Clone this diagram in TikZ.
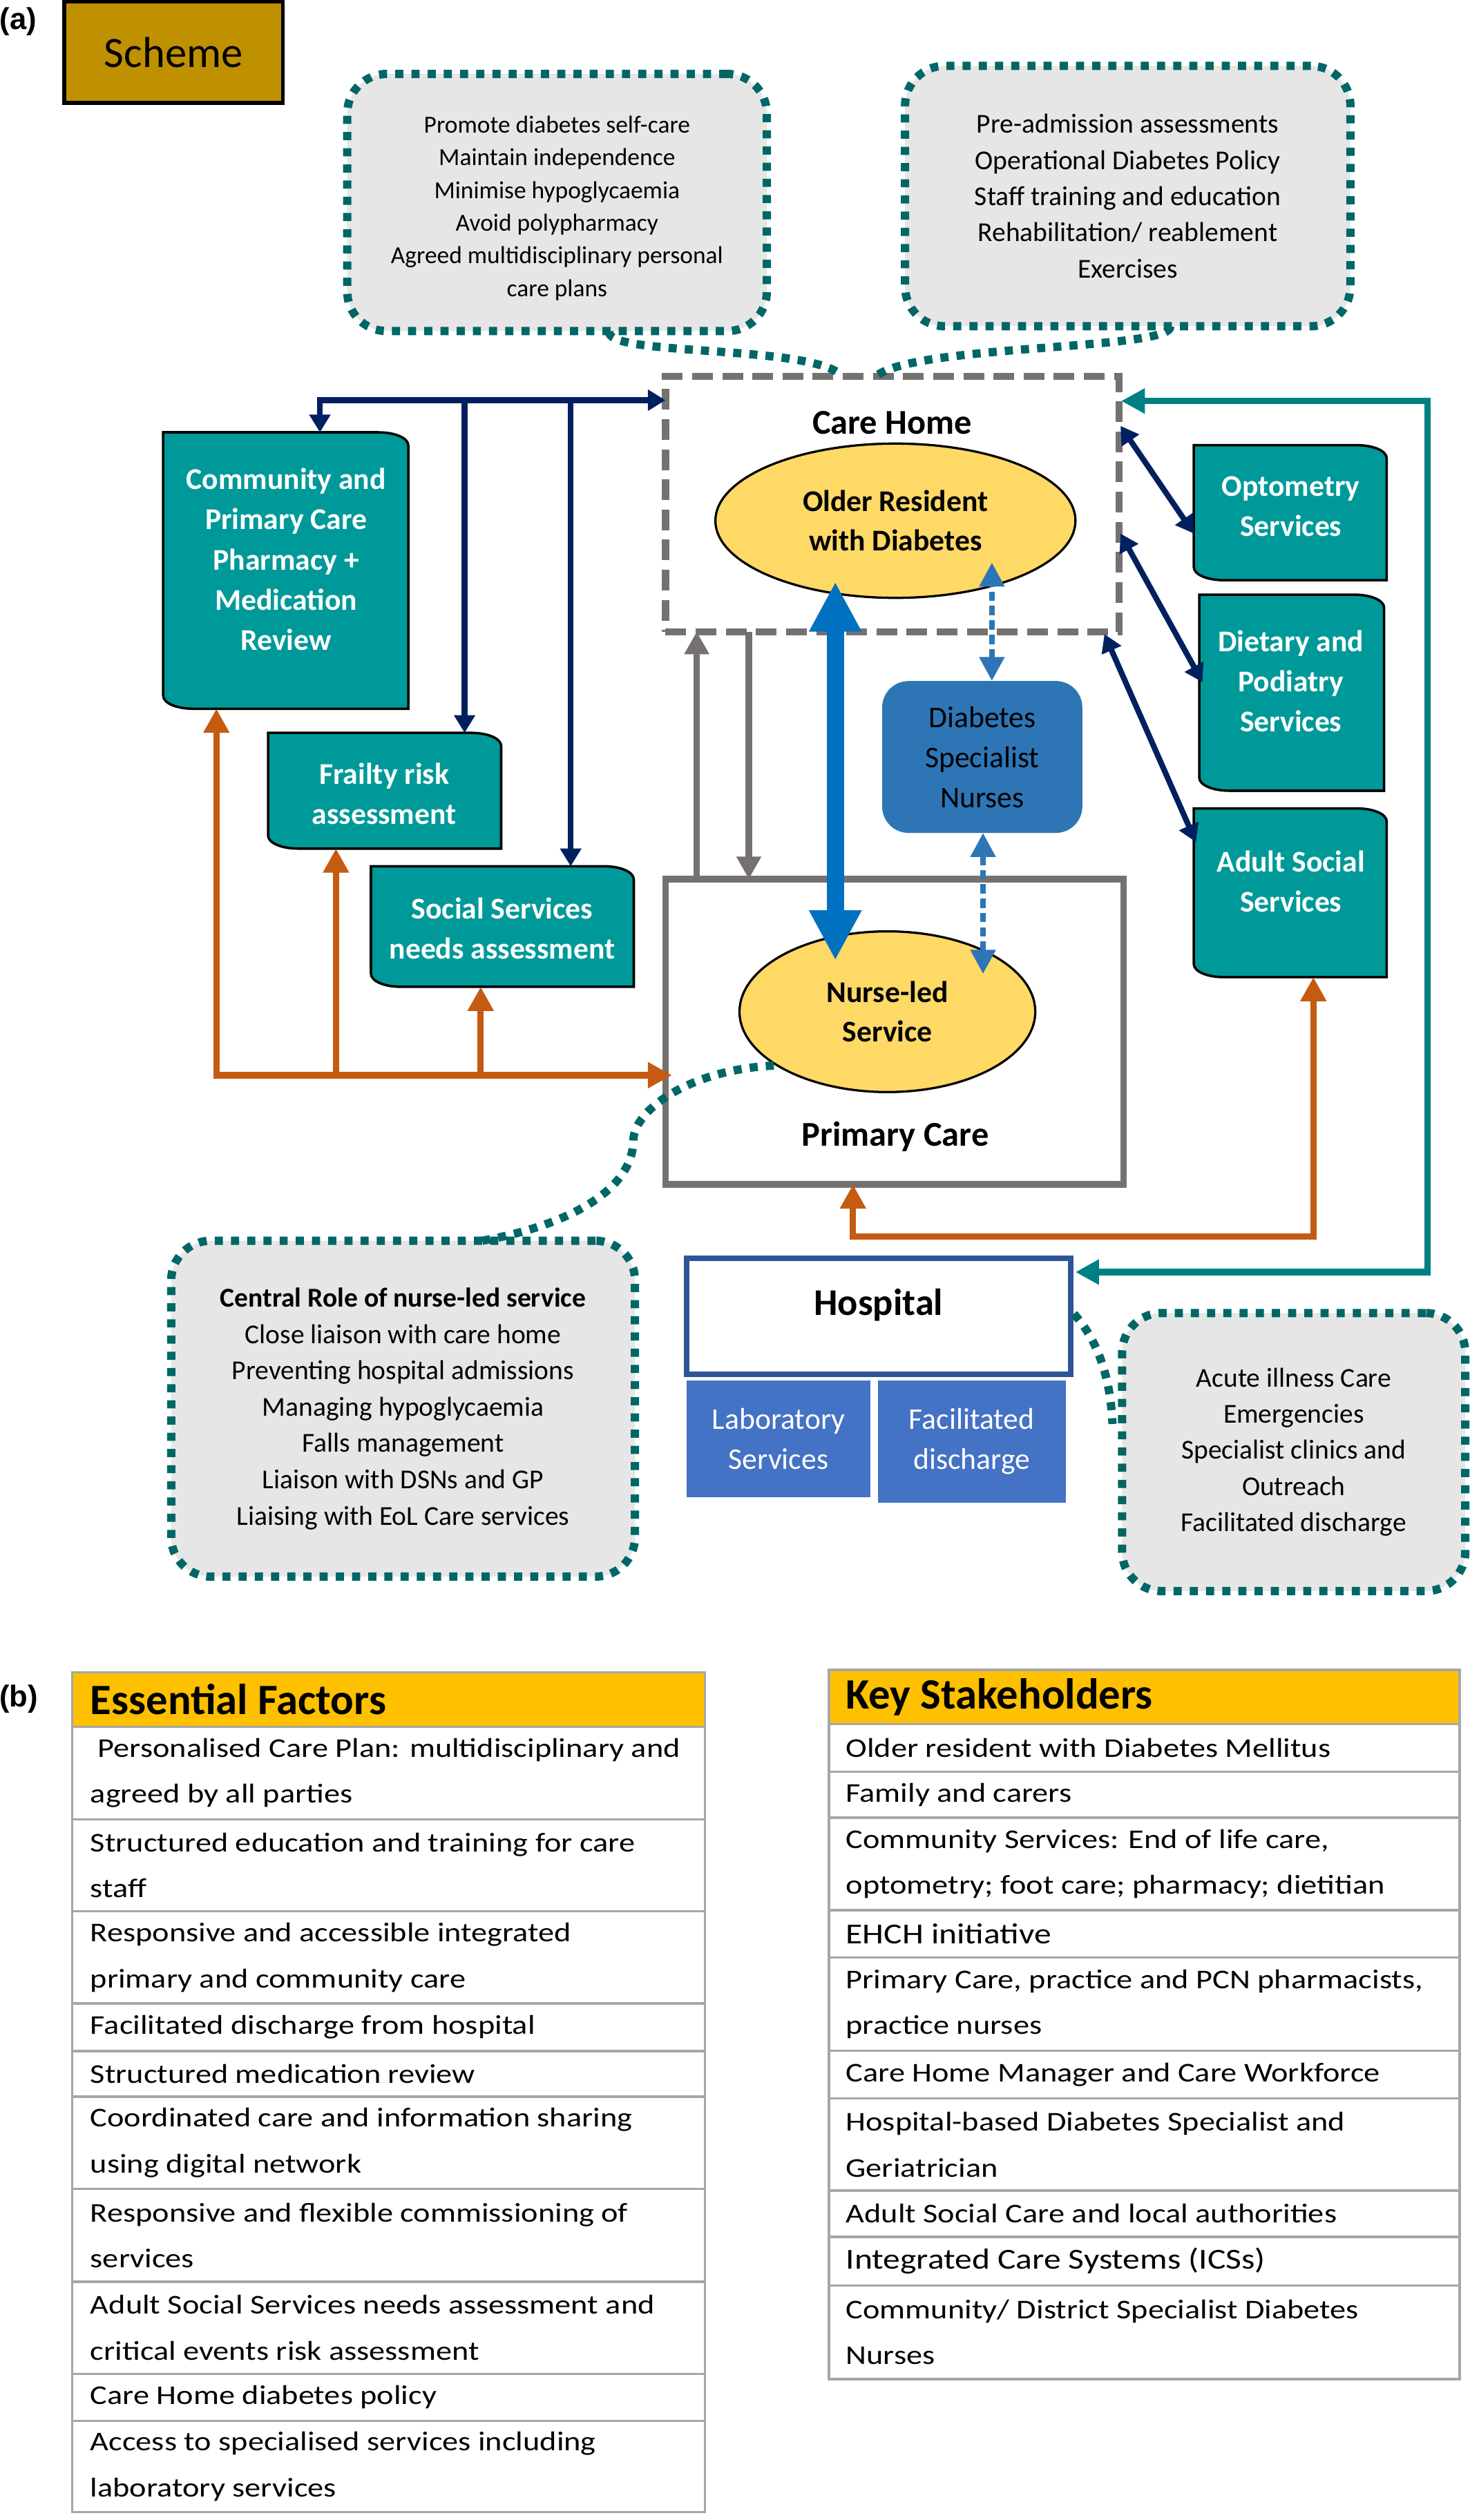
\documentclass[tikz,border=0pt]{standalone}
\usepackage{fontspec}
\setmainfont{Carlito}
\newfontfamily\tabfont[FakeStretch=1.18]{Carlito}
\newfontfamily\lblfont{Liberation Sans}
\usetikzlibrary{arrows.meta,shapes.geometric,calc}
\pgfdeclarelayer{bg}
\pgfsetlayers{bg,main}
\newcommand\uu{0.03cm}
\definecolor{tealbox}{HTML}{009999}
\definecolor{navyc}{HTML}{002060}
\definecolor{orangec}{HTML}{C55A11}
\definecolor{greyc}{HTML}{767171}
\definecolor{tealarr}{HTML}{008080}
\definecolor{callb}{HTML}{006666}
\definecolor{callf}{HTML}{E7E6E6}
\definecolor{ellf}{HTML}{FFD966}
\definecolor{dsnc}{HTML}{2E75B6}
\definecolor{bluearr}{HTML}{0070C0}
\definecolor{hospb}{HTML}{2F5597}
\definecolor{labf}{HTML}{4472C4}
\definecolor{goldc}{HTML}{BF9000}
\definecolor{hdrc}{HTML}{FFC000}
\definecolor{tabline}{HTML}{A6A6A6}
\tikzset{
  sz/.style 2 args={minimum width={#1*\uu}, minimum height={#2*\uu}},
  ph/.style={rectangle, inner sep=0pt, outer sep=0pt},
  tealshape/.style={fill=tealbox, draw=black, line width=1.3pt},
  tealtxt/.style={text=white, align=center, inner sep=0pt, font={\bfseries\fontsize{16}{21.3}\selectfont}},
  callout/.style={rectangle, rounded corners=21pt, draw=callb, fill=callf, line width=4.4pt, dash pattern=on 4.3pt off 4.3pt, align=center, inner sep=0pt, outer sep=0pt},
  chbox/.style={rectangle, draw=greyc, line width=3.7pt, dash pattern=on 11pt off 5pt, inner sep=0pt, outer sep=0pt},
  pcbox/.style={rectangle, draw=greyc, line width=3.5pt, inner sep=0pt, outer sep=0pt},
  hospbox/.style={rectangle, draw=hospb, line width=3pt, fill=white, inner sep=0pt, outer sep=0pt},
  labbox/.style={rectangle, fill=labf, text=white, align=center, inner sep=0pt, outer sep=0pt, font={\fontsize{16}{21.3}\selectfont}},
  dsnbox/.style={rectangle, rounded corners=14pt, fill=dsnc, text=black, align=center, inner sep=0pt, outer sep=0pt, font={\fontsize{16}{21.3}\selectfont}},
  ell/.style={ellipse, draw=black, line width=1.2pt, fill=ellf, inner sep=0pt, outer sep=0pt, align=center, font={\bfseries\fontsize{16}{20.9}\selectfont}},
  bigbold/.style={inner sep=0pt, font={\bfseries\fontsize{18.5}{22}\selectfont}},
  lbl/.style={inner sep=0pt, font={\lblfont\bfseries\fontsize{16}{19}\selectfont}},
  schemebox/.style={rectangle, draw=black, fill=goldc, line width=2pt, inner sep=0pt, font={\fontsize{23}{27}\selectfont}},
  rowbox/.style={rectangle, draw=tabline, line width=1.2pt, inner sep=0pt, outer sep=0pt},
  hdrbox/.style={rowbox, fill=hdrc},
  rowtxt/.style={inner sep=0pt, align=left, font={\tabfont\fontsize{14.4}{24.4}\selectfont}},
  hdrtxt/.style={inner sep=0pt, font={\bfseries\fontsize{23}{27}\selectfont}},
  navyline/.style={draw=navyc, line width=3pt},
  orline/.style={draw=orangec, line width=3.4pt},
  tqline/.style={draw=tealarr, line width=3.4pt},
  greyline/.style={draw=greyc, line width=3.4pt},
  blueline/.style={draw=bluearr, line width=9.2pt},
  dsnline/.style={draw=dsnc, line width=3pt, dash pattern=on 5pt off 2.6pt},
  tail/.style={draw=callb, line width=4.4pt, dash pattern=on 4.3pt off 4.3pt},
  navytip/.tip={Triangle[length=9.4pt,width=10.8pt]},
  ortip/.tip={Triangle[length=12.8pt,width=13.1pt]},
  tqtip/.tip={Triangle[length=12.5pt,width=12.7pt]},
  greytip/.tip={Triangle[length=12pt,width=12.5pt]},
  bluetip/.tip={Triangle[length=26.5pt,width=26pt]},
  dsntip/.tip={Triangle[length=12.8pt,width=12.8pt]}
}
\newcommand\rdshape[1]{%
  \filldraw[tealshape] (#1.north west) -- ([xshift=-16pt]#1.north east)
    .. controls ([xshift=-7pt]#1.north east) and ([yshift=-3pt]#1.north east) .. ([yshift=-7pt]#1.north east)
    -- (#1.south east) -- ([xshift=16pt]#1.south west)
    .. controls ([xshift=7pt]#1.south west) and ([yshift=3pt]#1.south west) .. ([yshift=7pt]#1.south west) -- cycle;}
\newcommand\trow[6]{%
  \node[#6, anchor=north west, minimum width={(#4-#2)*\uu}, minimum height={(#5-#3)*\uu}] (#1) at (#2,#3) {};}
\newcommand\ttxt[4]{%
  \node[rowtxt, anchor=west, #4] (#1t) at ($(#1.west)+(#2,0)$) {#3};}
\begin{document}
\begin{tikzpicture}[x=0.03cm, y=-0.03cm]
\begin{pgfonlayer}{bg}
\fill[white] (0,0) rectangle (914,1568);
\end{pgfonlayer}
\useasboundingbox (0,0) rectangle (914,1568);

% ---------- panel (a) ----------
\node[lbl] (la) at (11.3,13.4) {(a)};
\node[schemebox, sz={136}{63}] (scheme) at (108,32.5) {Scheme};

% callouts
\node[callout, sz={261}{160}, font={\fontsize{13}{17.4}\selectfont}] (c1) at (346.5,126)
  {\rule{0pt}{15pt}Promote diabetes self-care\\Maintain independence\\Minimise hypoglycaemia\\Avoid polypharmacy\\Agreed multidisciplinary personal\\care plans};
\node[callout, sz={277}{162}, font={\fontsize{14.5}{19.2}\selectfont}] (c2) at (701.5,122)
  {Pre-admission assessments\\Operational Diabetes Policy\\Staff training and education\\Rehabilitation/ reablement\\Exercises};
\node[callout, sz={288.5}{209}, font={\fontsize{14.5}{19.3}\selectfont}] (c3) at (250.75,876.5)
  {\textbf{Central Role of nurse-led service}\\Close liaison with care home\\Preventing hospital admissions\\Managing hypoglycaemia\\Falls management\\Liaison with DSNs and GP\\Liaising with EoL Care services};
\node[callout, sz={213.5}{173}, font={\fontsize{14.5}{19.2}\selectfont}] (c4) at (804.75,903.5)
  {Acute illness Care\\Emergencies\\Specialist clinics and\\Outreach\\Facilitated discharge};

% care home and primary care
\node[chbox, sz={282}{159}] (chome) at (555,313.5) {};
\node[bigbold] (chomet) at (555,263) {Care Home};
\node[pcbox, sz={285}{190}] (pcare) at (556.5,642) {};
\node[bigbold] (pcaret) at (557,707) {Primary Care};
\node[ell, sz={224}{96}] (older) at (557,324) {Older Resident\\with Diabetes};
\node[ell, sz={184}{100}] (nurse) at (552,629.5) {Nurse-led\\Service};
\node[dsnbox, sz={124.5}{94.5}] (dsn) at (611,471) {Diabetes\\Specialist\\Nurses};

% teal boxes
\node[ph, sz={152.5}{172}] (comm) at (177.75,355) {};
\node[ph, sz={145}{72}] (frail) at (239.25,492) {};
\node[ph, sz={163.5}{75}] (social) at (312.5,576.5) {};
\node[ph, sz={120}{84}] (opt) at (802.6,319) {};
\node[ph, sz={115}{122}] (diet) at (803.5,431) {};
\node[ph, sz={120}{105}] (adult) at (802.6,555.5) {};
\begin{pgfonlayer}{bg}
  \rdshape{comm}\rdshape{frail}\rdshape{social}\rdshape{opt}\rdshape{diet}\rdshape{adult}
\end{pgfonlayer}
\node[tealtxt] (commt) at (178,348) {Community and\\Primary Care\\Pharmacy +\\Medication\\Review};
\node[tealtxt] (frailt) at (239,493.8) {Frailty risk\\assessment};
\node[tealtxt] (socialt) at (312.4,577.5) {Social Services\\needs assessment};
\node[tealtxt] (optt) at (803,315) {Optometry\\Services};
\node[tealtxt] (dietT) at (803,424) {Dietary and\\Podiatry\\Services};
\node[tealtxt] (adultt) at (803,548.4) {Adult Social\\Services};

% hospital
\node[hospbox, sz={239}{72.5}] (hosp) at (546.5,819) {};
\node[inner sep=0pt, font={\bfseries\fontsize{20}{24}\selectfont}] (hospt) at (546.5,812) {Hospital};
\node[labbox, sz={114.6}{72.6}] (lab) at (484.3,895.3) {Laboratory\\Services};
\node[labbox, sz={117}{76}] (facil) at (604.5,897) {Facilitated\\discharge};

% navy tree
\coordinate (nv0) at (199,249);
\coordinate (nv1) at (289,249);
\coordinate (nv2) at (355,249);
\draw[navyline, navytip-navytip] (nv0 |- comm.north) -- (nv0) -- (nv0 -| chome.west);
\draw[navyline, -navytip] (nv1) -- (nv1 |- frail.north);
\draw[navyline, -navytip] (nv2) -- (nv2 |- social.north);

% orange tree
\coordinate (or0) at (134.6,669);
\coordinate (or1) at (209,669);
\coordinate (or2) at (299,669);
\draw[orline, ortip-ortip] (or0 |- comm.south) -- (or0) -- ($(or0 -| pcare.west)+(4,0)$);
\draw[orline, -ortip] (or1) -- (or1 |- frail.south);
\draw[orline, -ortip] (or2) -- (or2 |- social.south);
\coordinate (or3) at (817,769.5);
\coordinate (or4) at (530.6,769.5);
\draw[orline, ortip-ortip] (or3 |- adult.south) -- (or3) -- (or4) -- (or4 |- pcare.south);

% teal loop
\coordinate (tq0) at (888,249.5);
\coordinate (tq1) at (888,791.5);
\draw[tqline, tqtip-tqtip] ($(tq0 -| chome.east)+(1.5,0)$) -- (tq0) -- (tq1) -- ($(tq1 -| hosp.east)+(3,0)$);

% grey arrows
\coordinate (gx0) at (433.4,470);
\coordinate (gx1) at (465.8,470);
\draw[greyline, -greytip] (gx0 |- pcare.north) -- (gx0 |- chome.south);
\draw[greyline, -greytip] (gx1 |- chome.south) -- (gx1 |- pcare.north);

% blue thick double arrow
\coordinate (bx) at (519.6,480);
\draw[blueline, bluetip-bluetip] ($(bx |- older.south)+(0,-10)$) -- ($(bx |- nurse.north)+(0,18)$);

% DSN dotted arrows
\coordinate (dx0) at (617,400);
\coordinate (dx1) at (611.5,560);
\draw[dsnline, dsntip-dsntip] (dx0 |- dsn.north) -- ($(dx0 |- older.south)+(0,-22)$);
\draw[dsnline, dsntip-dsntip] (dx1 |- dsn.south) -- ($(dx1 |- nurse.north)+(0,26.5)$);

% navy right arrows
\draw[navyline, navytip-navytip] ($(chome.east)+(1,-48.5)$) -- ($(opt.west)+(0,13)$);
\draw[navyline, navytip-navytip] ($(chome.east)+(1,18.5)$) -- ($(diet.west)+(2,-6.5)$);
\draw[navyline, navytip-navytip] ($(chome.south east)+(-9,1.5)$) -- ($(adult.west)+(1.3,-31.5)$);

% callout tails
\draw[tail] ($(c1.south)+(32.5,0)$) .. controls (375,222) and (505,214) .. ($(chome.north)+(-31,0)$);
\draw[tail] ($(c2.south)+(26.5,0)$) .. controls (730,218) and (570,214) .. ($(chome.north)+(-10,0)$);
\draw[tail] ($(c3.north)+(49.25,0)$) .. controls (355,762) and (394,740) .. (394,709)
   .. controls (395,690) and (430,665) .. (nurse.206);
\draw[tail] ($(hosp.east)+(2,-1.5)$) .. controls (684,835) and (691,860) .. ($(c4.west)+(-6,-17.5)$);

% ---------- panel (b) ----------
\node[lbl] (lb) at (11.6,1057) {(b)};

\trow{e0}{45}{1040.4}{438.6}{1074.5}{hdrbox}
\node[hdrtxt, anchor=west] (e0t) at ($(e0.west)+(11,0)$) {Essential Factors};
\trow{e1}{45}{1074.5}{438.6}{1131.9}{rowbox}
\trow{e2}{45}{1131.9}{438.6}{1189.2}{rowbox}
\trow{e3}{45}{1189.2}{438.6}{1246.6}{rowbox}
\trow{e4}{45}{1246.6}{438.6}{1276.2}{rowbox}
\trow{e5}{45}{1276.2}{438.6}{1304.6}{rowbox}
\trow{e6}{45}{1304.6}{438.6}{1362}{rowbox}
\trow{e7}{45}{1362}{438.6}{1419.7}{rowbox}
\trow{e8}{45}{1419.7}{438.6}{1477}{rowbox}
\trow{e9}{45}{1477}{438.6}{1506.3}{rowbox}
\trow{e10}{45}{1506.3}{438.6}{1563}{rowbox}
\ttxt{e1}{11}{\hspace*{0.28em}Personalised Care Plan: multidisciplinary and\\agreed by all parties}{}
\ttxt{e2}{11}{Structured education and training for care\\staff}{}
\ttxt{e3}{11}{Responsive and accessible integrated\\primary and community care}{}
\ttxt{e4}{11}{Facilitated discharge from hospital}{}
\ttxt{e5}{11}{Structured medication review}{}
\ttxt{e6}{11}{Coordinated care and information sharing\\using digital network}{}
\ttxt{e7}{11}{Responsive and flexible commissioning of\\services}{}
\ttxt{e8}{11}{Adult Social Services needs assessment and\\critical events risk assessment}{}
\ttxt{e9}{11}{Care Home diabetes policy}{}
\ttxt{e10}{11}{Access to specialised services including\\laboratory services}{}

\trow{k0}{515.6}{1039}{908}{1072.7}{hdrbox}
\node[hdrtxt, anchor=west] (k0t) at ($(k0.west)+(10.4,0)$) {Key Stakeholders};
\trow{k1}{515.6}{1072.7}{908}{1102.4}{rowbox}
\trow{k2}{515.6}{1102.4}{908}{1131}{rowbox}
\trow{k3}{515.6}{1131}{908}{1188.5}{rowbox}
\trow{k4}{515.6}{1188.5}{908}{1218}{rowbox}
\trow{k5}{515.6}{1218}{908}{1276}{rowbox}
\trow{k6}{515.6}{1276}{908}{1305.7}{rowbox}
\trow{k7}{515.6}{1305.7}{908}{1363}{rowbox}
\trow{k8}{515.6}{1363}{908}{1391.8}{rowbox}
\trow{k9}{515.6}{1391.8}{908}{1422}{rowbox}
\trow{k10}{515.6}{1422}{908}{1480.3}{rowbox}
\ttxt{k1}{10.4}{Older resident with Diabetes Mellitus}{}
\ttxt{k2}{10.4}{Family and carers}{}
\ttxt{k3}{10.4}{Community Services: End of life care,\\optometry; foot care; pharmacy; dietitian}{}
\ttxt{k4}{10.4}{EHCH initiative}{font={\tabfont\fontsize{15.4}{24.4}\selectfont}}
\ttxt{k5}{10.4}{Primary Care, practice and PCN pharmacists,\\practice nurses}{}
\ttxt{k6}{10.4}{Care Home Manager and Care Workforce}{}
\ttxt{k7}{10.4}{Hospital-based Diabetes Specialist and\\Geriatrician}{}
\ttxt{k8}{10.4}{Adult Social Care and local authorities}{}
\ttxt{k9}{10.4}{Integrated Care Systems (ICSs)}{font={\tabfont\fontsize{15.4}{24.4}\selectfont}}
\ttxt{k10}{10.4}{Community/ District Specialist Diabetes\\Nurses}{}
\end{tikzpicture}
\end{document}
